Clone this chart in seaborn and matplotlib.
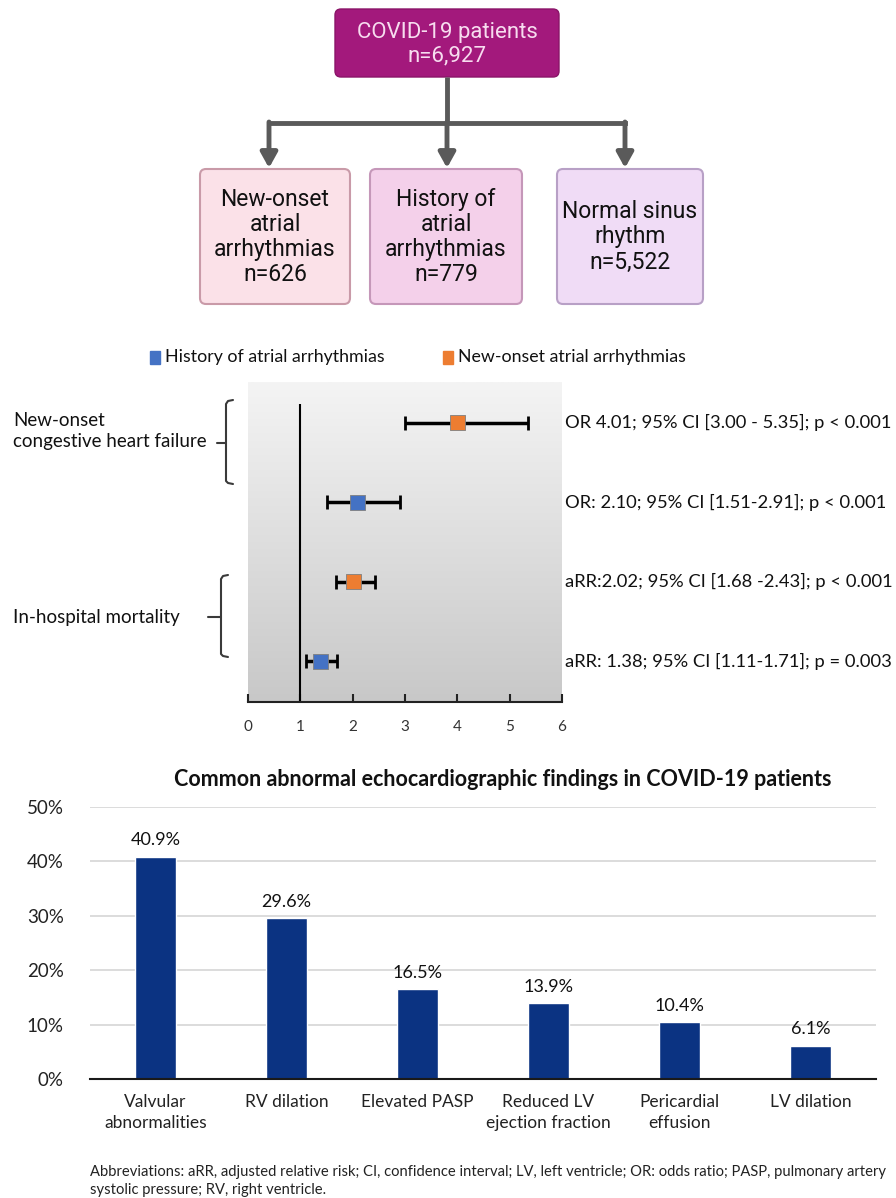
import numpy as np
import pandas as pd
import seaborn as sns
import matplotlib.pyplot as plt
from matplotlib.patches import FancyBboxPatch, Rectangle
from matplotlib.colors import LinearSegmentedColormap

# flowchart numbers
total_label = "COVID-19 patients\nn=6,927"
group_labels = ["New-onset\natrial\narrhythmias\nn=626",
                "History of\natrial\narrhythmias\nn=779",
                "Normal sinus\nrhythm\nn=5,522"]

# forest plot
outcomes = ["New-onset\ncongestive heart failure", "In-hospital mortality"]
groups = ["New-onset atrial arrhythmias", "History of atrial arrhythmias",
          "New-onset atrial arrhythmias", "History of atrial arrhythmias"]
estimate = [4.01, 2.10, 2.02, 1.38]
ci_low = [3.00, 1.51, 1.68, 1.11]
ci_high = [5.35, 2.91, 2.43, 1.71]
stat_text = ["OR 4.01; 95% CI [3.00 - 5.35]; p < 0.001",
             "OR: 2.10; 95% CI [1.51-2.91]; p < 0.001",
             "aRR:2.02; 95% CI [1.68 -2.43]; p < 0.001",
             "aRR: 1.38; 95% CI [1.11-1.71]; p = 0.003"]

# echo findings
findings = ["Valvular\nabnormalities", "RV dilation", "Elevated PASP",
            "Reduced LV\nejection fraction", "Pericardial\neffusion", "LV dilation"]
percent = [40.9, 29.6, 16.5, 13.9, 10.4, 6.1]

W, H = 896, 1198
sns.set_style("white")
plt.rcParams['font.family'] = ['Lato', 'DejaVu Sans']

fig = plt.figure(figsize=(W / 100, H / 100), dpi=100)


def px_axes(l, t, r, b):
    return fig.add_axes([l / W, 1 - b / H, (r - l) / W, (b - t) / H])


# overlay in pixel coordinates
ov = px_axes(0, 0, W, H)
ov.set_xlim(0, W)
ov.set_ylim(H, 0)
ov.axis('off')

# ---- flowchart ----
ov.add_patch(FancyBboxPatch((335, 9), 224, 68, boxstyle="round,pad=0,rounding_size=6",
                            fc='#a3197c', ec='#8a1468', lw=1))
ov.text(447, 44, total_label, ha='center', va='center', color='#f7dcef',
        fontsize=16, family='Roboto', linespacing=1.12)

box_x = [(200, 350), (370, 522), (557, 703)]
box_fc = ['#fbe1e8', '#f4d0ea', '#f0dcf6']
box_ec = ['#c99aa8', '#c597b9', '#b8a0c6']
for (l, r), fc, ec, lab in zip(box_x, box_fc, box_ec, group_labels):
    ov.add_patch(FancyBboxPatch((l, 169), r - l, 135, boxstyle="round,pad=0,rounding_size=6",
                                fc=fc, ec=ec, lw=1.5))
    ov.text((l + r) / 2, 237, lab, ha='center', va='center', color='#111111',
            fontsize=16.5, family='Roboto', linespacing=1.12)

gray = '#5a5a5a'
ov.plot([447, 447], [77, 123], color=gray, lw=3.5, solid_capstyle='butt')
ov.plot([269, 625], [123, 123], color=gray, lw=3.5, solid_capstyle='projecting')
for x in [269, 447, 625]:
    ov.annotate('', xy=(x, 168), xytext=(x, 122),
                arrowprops=dict(arrowstyle='-|>,head_length=0.9,head_width=0.5',
                                color=gray, lw=3.5, shrinkA=0, shrinkB=0))

# ---- forest plot ----
fp = pd.DataFrame({'group': groups, 'est': estimate, 'lo': ci_low, 'hi': ci_high,
                   'row': range(len(estimate))})
ax = px_axes(248, 382, 562, 702)
grad = LinearSegmentedColormap.from_list('g', ['#f4f4f4', '#c8c8c8'])
ax.imshow(np.linspace(0, 1, 256).reshape(-1, 1), cmap=grad, aspect='auto',
          extent=[0, 1, 0, 1], transform=ax.transAxes, zorder=0)
ax.vlines(1, -0.23, 3.5, color='black', lw=1.5, zorder=1)
ax.errorbar(fp['est'], fp['row'], xerr=[fp['est'] - fp['lo'], fp['hi'] - fp['est']],
            fmt='none', ecolor='black', elinewidth=2.5, capsize=5, capthick=2, zorder=2)
sns.scatterplot(data=fp, x='est', y='row', hue='group', marker='s', s=115,
                palette={'New-onset atrial arrhythmias': '#ed7d31',
                         'History of atrial arrhythmias': '#4472c4'},
                edgecolor='#7f7f7f', linewidth=0.6, legend=False, ax=ax, zorder=3)
ax.set_xlim(0, 6)
ax.set_ylim(3.51, -0.51)
ax.set_xticks(range(7))
ax.set_yticks([])
ax.set_xlabel('')
ax.set_ylabel('')
for s in ['top', 'left', 'right']:
    ax.spines[s].set_visible(False)
ax.spines['bottom'].set_color('#222222')
ax.spines['bottom'].set_linewidth(1.5)
ax.tick_params(axis='x', direction='in', length=6, width=1.5, color='#222222',
               labelsize=11, labelcolor='#333333', pad=13, bottom=True)
for r, t in zip(fp['row'], stat_text):
    ax.text(6.05, r, t, ha='left', va='center', fontsize=13.2, color='#111111', clip_on=False)

# legend
ov.add_patch(Rectangle((150, 351), 10, 13, color='#4472c4'))
ov.text(165, 357, "History of atrial arrhythmias", va='center', fontsize=12.8, color='#111111')
ov.add_patch(Rectangle((443, 351), 10, 13, color='#ed7d31'))
ov.text(458, 357, "New-onset atrial arrhythmias", va='center', fontsize=12.8, color='#111111')

# brackets
bc = '#3a3a3a'
ov.plot([233, 228, 226, 226, 228, 233], [400, 401, 404, 481, 483, 484], color=bc, lw=1.5)
ov.plot([217, 226], [443, 443], color=bc, lw=1.5)
ov.plot([228, 223, 221, 221, 223, 228], [575, 576, 579, 654, 656, 657], color=bc, lw=1.5)
ov.plot([208, 221], [617, 617], color=bc, lw=1.5)
ov.text(13, 431, outcomes[0], va='center', fontsize=13.5, color='#111111', linespacing=1.35)
ov.text(13, 617, outcomes[1], va='center', fontsize=13.5, color='#111111')

# ---- bar chart ----
bx = px_axes(90, 807, 876, 1079)
sns.barplot(x=findings, y=percent, color='#0b3382', width=0.32, saturation=1, ax=bx, zorder=2)
bx.set_ylim(0, 50)
bx.set_yticks(range(0, 51, 10))
bx.set_yticklabels([f'{v}%' for v in range(0, 51, 10)])
bx.yaxis.grid(True, color='#d9d9d9', lw=1.3, zorder=0)
bx.set_axisbelow(True)
for s in ['top', 'left', 'right']:
    bx.spines[s].set_visible(False)
bx.spines['bottom'].set_color('#1a1a1a')
bx.spines['bottom'].set_linewidth(1.5)
bx.tick_params(axis='both', length=0, labelcolor='#222222')
bx.tick_params(axis='x', pad=11, labelsize=12.5)
bx.tick_params(axis='y', pad=19, labelsize=13.5)
for lab in bx.get_xticklabels():
    lab.set_linespacing(1.35)
for i, v in enumerate(percent):
    bx.text(i, v + 3.0, f'{v}%', ha='center', va='center', fontsize=13, color='#111111')

ov.text(503, 780, "Common abnormal echocardiographic findings in COVID-19 patients",
        ha='center', va='center', fontsize=15.5, fontweight='bold', color='#111111')

ov.text(90, 1172, "Abbreviations: aRR, adjusted relative risk; CI, confidence interval; LV, left ventricle; "
        "OR: odds ratio; PASP, pulmonary artery", va='center', fontsize=10.6, color='#222222')
ov.text(90, 1190, "systolic pressure; RV, right ventricle.", va='center', fontsize=10.6, color='#222222')

plt.savefig('out.png', dpi=100, facecolor='white')
